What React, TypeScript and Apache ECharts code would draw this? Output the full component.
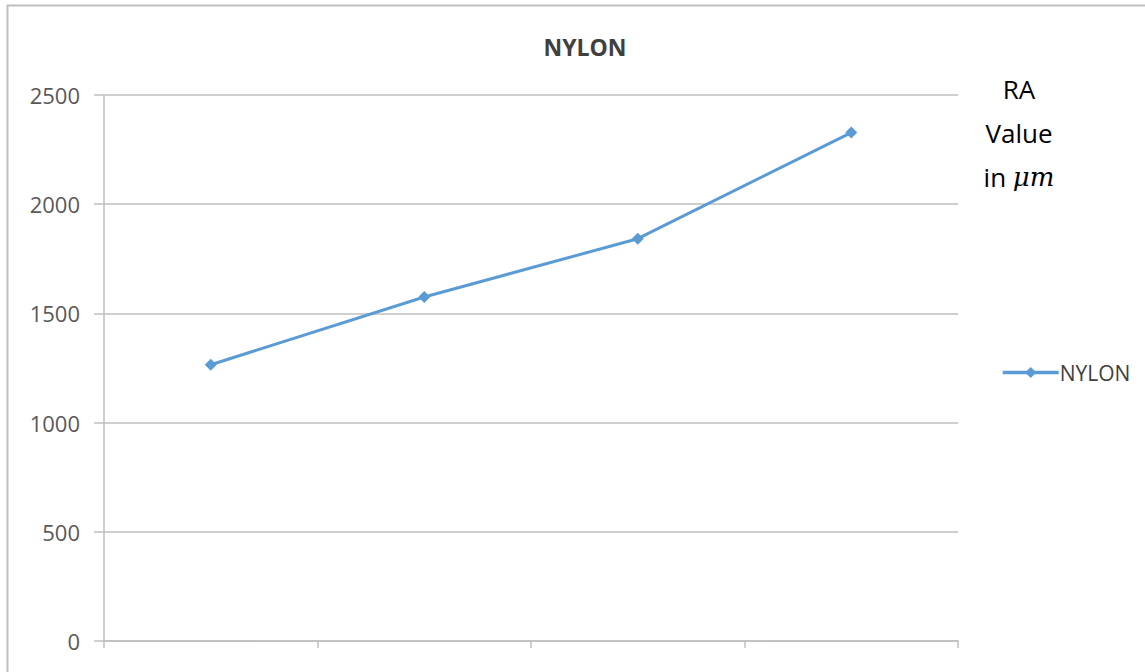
import React, { useEffect, useRef } from "react";
import * as echarts from "echarts";

const categories = ["1", "2", "3", "4"];
const nylonValues = [1265, 1575, 1842, 2328];
const yTicks = [0, 500, 1000, 1500, 2000, 2500];
const seriesName = "NYLON";
const titleText = "NYLON";

export default function App() {
  const ref = useRef<HTMLDivElement>(null);
  useEffect(() => {
    document.body.style.margin = "0";
    const chart = echarts.init(ref.current!, null, { renderer: "svg" });
    chart.setOption({
      animation: false,
      backgroundColor: "#ffffff",
      textStyle: { fontFamily: "Open Sans" },
      title: {
        text: titleText,
        left: 580,
        top: 30,
        textAlign: "center",
        textStyle: { fontSize: 23, fontWeight: "bold", color: "#404040", fontFamily: "Open Sans" },
      },
      legend: {
        data: [seriesName],
        left: 996,
        top: 357,
        itemWidth: 56,
        itemHeight: 14,
        itemGap: 5,
        lineStyle: { width: 3.5, color: "#5b9bd5" },
        textStyle: { fontSize: 21, color: "#404040", fontFamily: "Open Sans", padding: [0, 0, 0, -4] },
      },
      grid: { left: 104, right: 187, top: 95, bottom: 31, containLabel: false },
      xAxis: {
        type: "category",
        data: categories,
        boundaryGap: true,
        axisLine: { show: true, lineStyle: { color: "#bfbfbf", width: 1.5 } },
        axisTick: { show: true, length: 7, alignWithLabel: false, lineStyle: { color: "#bfbfbf", width: 1.5 } },
        axisLabel: { show: false },
      },
      yAxis: {
        type: "value",
        min: yTicks[0],
        max: yTicks[yTicks.length - 1],
        interval: 500,
        axisLine: { show: true, lineStyle: { color: "#bfbfbf", width: 1.5 } },
        axisTick: { show: true, length: 10, lineStyle: { color: "#bfbfbf", width: 1.5 } },
        splitLine: { show: true, lineStyle: { color: "#bfbfbf", width: 1.5 } },
        axisLabel: { fontSize: 22, color: "#595959", margin: 24, fontFamily: "Open Sans", formatter: (v: number) => String(v) },
      },
      series: [
        {
          name: seriesName,
          type: "line",
          data: nylonValues,
          symbol: "diamond",
          symbolSize: 12,
          itemStyle: { color: "#5b9bd5" },
          lineStyle: { color: "#5b9bd5", width: 3 },
        },
      ],
      graphic: [
        {
          type: "rect",
          shape: { x: 7.5, y: 5.5, width: 1200, height: 800 },
          style: { fill: "none", stroke: "#c0c0c0", lineWidth: 2 },
          silent: true,
          z: 100,
        },
        {
          type: "text",
          x: 1019,
          y: 67,
          style: {
            text: "RA\nValue\nin {m|μm}",
            align: "center",
            verticalAlign: "top",
            fontSize: 26,
            lineHeight: 44,
            fill: "#000000",
            fontFamily: "Open Sans",
            rich: {
              m: { fontSize: 26, fontStyle: "italic", fontFamily: "DejaVu Serif", fill: "#000000" },
            },
          },
        },
      ],
    });
    return () => chart.dispose();
  }, []);
  return <div ref={ref} style={{ width: 1145, height: 672 }} />;
}
